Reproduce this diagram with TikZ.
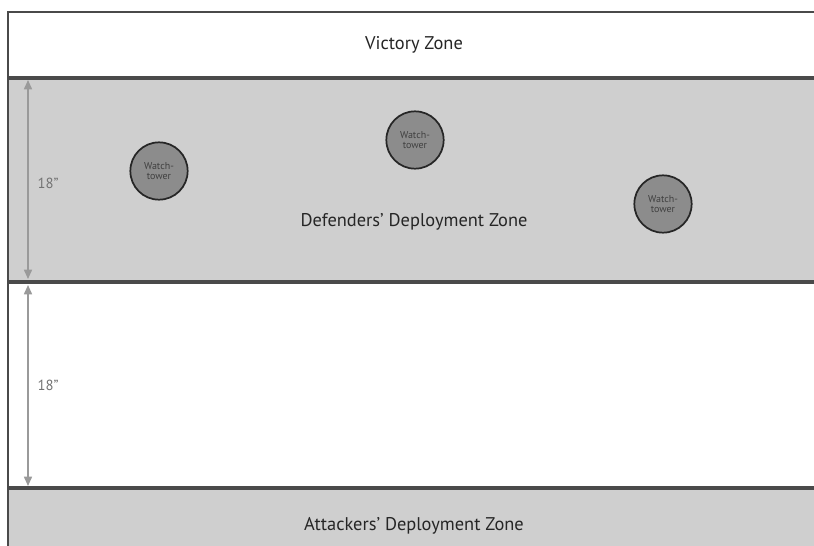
\documentclass[tikz,border=0pt]{standalone}
\usepackage{fontspec}
\setmainfont{PT Sans}
\usetikzlibrary{arrows.meta}
\definecolor{zonegray}{HTML}{CFCFCF}
\definecolor{edgegray}{HTML}{4A4A4A}
\definecolor{towergray}{HTML}{8C8C8C}
\definecolor{measgray}{HTML}{9A9A9A}
\begin{document}
\begin{tikzpicture}[x=0.75pt,y=-0.75pt,
    zonelabel/.style={font=\fontsize{13.8}{15}\selectfont,text=black!85},
    tower/.style={shape=circle,draw=black!85,line width=1.3pt,fill=towergray,minimum size=43pt,inner sep=0pt,align=center,font=\fontsize{7.5}{8}\selectfont,text=black!75},
    measure/.style={draw=measgray,line width=1.2pt,{Triangle[length=7pt,width=6pt]}-{Triangle[length=7pt,width=6pt]}},
    zoneline/.style={draw=edgegray,line width=2.3pt},
    measlabel/.style={font=\fontsize{11}{12}\selectfont,text=black!55}]
  \useasboundingbox (0,0) rectangle (814,546);
  % zones
  \fill[white] (0,0) rectangle (814,546);
  \fill[zonegray] (8,78) rectangle (814,282);
  \fill[zonegray] (8,488) rectangle (814,546);
  \draw[edgegray,line width=1pt] (814,12) -- (8,12) -- (8,546);
  \coordinate (d1) at (8,78);  \coordinate (d1e) at (814,78);
  \coordinate (d2) at (8,282); \coordinate (d2e) at (814,282);
  \coordinate (d3) at (8,488); \coordinate (d3e) at (814,488);
  \draw[zoneline] (d1) -- (d1e);
  \draw[zoneline] (d2) -- (d2e);
  \draw[zoneline] (d3) -- (d3e);
  % labels
  \node[zonelabel] (victory) at (414,45) {Victory Zone};
  \node[zonelabel] (defenders) at (414,222) {Defenders' Deployment Zone};
  \node[zonelabel] (attackers) at (414,526) {Attackers' Deployment Zone};
  % watchtowers
  \node[tower] (t1) at (159,171) {Watch-\\tower};
  \node[tower] (t2) at (415,140) {Watch-\\tower};
  \node[tower] (t3) at (663,204) {Watch-\\tower};
  % distances
  \coordinate (a1) at (28,80);  \coordinate (a1e) at (28,279);
  \coordinate (a2) at (28,285); \coordinate (a2e) at (28,486);
  \draw[measure] (a1) -- (a1e);
  \draw[measure] (a2) -- (a2e);
  \node[measlabel] (m1) at (48,183) {18"};
  \node[measlabel] (m2) at (48,385) {18"};
\end{tikzpicture}
\end{document}
